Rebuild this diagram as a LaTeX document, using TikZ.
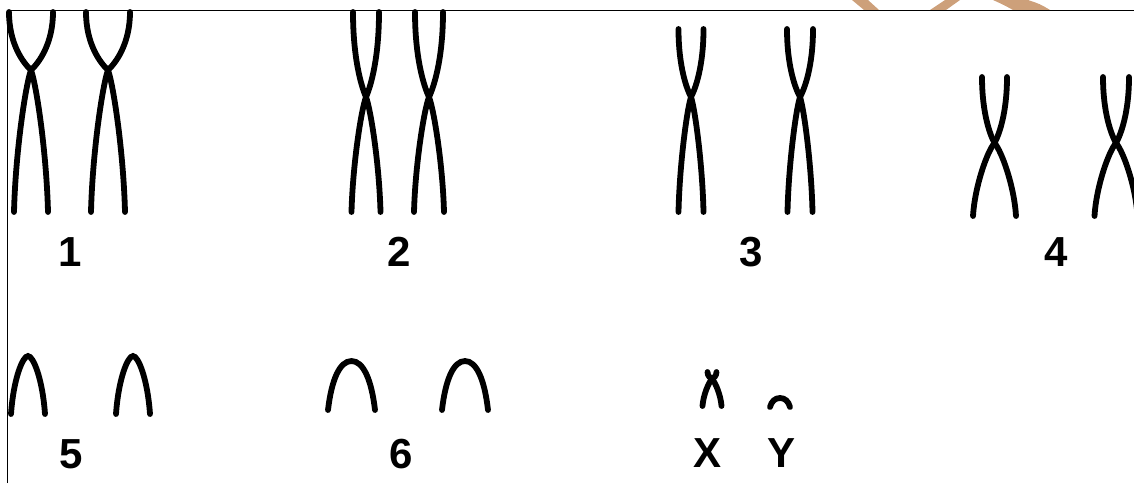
\documentclass[tikz,border=0pt]{standalone}
\usepackage{fontspec}
\setsansfont{Liberation Sans}
\definecolor{logotan}{RGB}{205,160,122}

% one chromosome: centre x, top y, centromere y, foot y, half width above, half width below
\newcommand\chromo[6]{%
  \draw[chromatid] ({#1-#5},#2) .. controls ({#1-#5},{#2+0.55*(#3-#2)}) and ({#1-0.35*#5},{#3-0.12*(#3-#2)}) .. (#1,#3)
    .. controls ({#1+0.35*#6},{#3+0.12*(#4-#3)}) and ({#1+0.92*#6},{#4-0.4*(#4-#3)}) .. ({#1+#6},#4);
  \draw[chromatid] ({#1+#5},#2) .. controls ({#1+#5},{#2+0.55*(#3-#2)}) and ({#1+0.35*#5},{#3-0.12*(#3-#2)}) .. (#1,#3)
    .. controls ({#1-0.35*#6},{#3+0.12*(#4-#3)}) and ({#1-0.92*#6},{#4-0.4*(#4-#3)}) .. ({#1-#6},#4);
}
% one arch: centre x, apex y, foot y, half width, roundness of the top
\newcommand\arch[5]{%
  \draw[chromatid] ({#1-#4},#3) .. controls ({#1-0.85*#4},{#3-0.62*(#3-#2)}) and ({#1-#5*#4},#2) .. (#1,#2)
    .. controls ({#1+#5*#4},#2) and ({#1+0.85*#4},{#3-0.62*(#3-#2)}) .. ({#1+#4},#3);
}

\begin{document}
\begin{tikzpicture}[x=0.5pt,y=-0.5pt,
    chromatid/.style={line width=2.9pt,line cap=round},
    num/.style={font=\fontsize{21}{25}\selectfont\sffamily\bfseries,inner sep=0pt}]
\useasboundingbox (0,0) rectangle (1134,483);
\clip (0,0) rectangle (1134,483);

% logo, cut off by the frame
\begin{scope}
\clip (0,0) rectangle (1134,10);
\fill[logotan] (852,0) -- (868,0) -- (879,10) -- (864,10) -- cycle;
\fill[logotan] (945,0) -- (960,0) -- (946,10) -- (930,10) -- cycle;
\fill[logotan] (993,0) -- (1028,0) .. controls (1040,4) .. (1050,10) -- (1013,10) .. controls (1004,5) .. (993,0) -- cycle;
\end{scope}

\draw[line width=0.5pt] (7.5,483) -- (7.5,10.5) -- (1134,10.5);

% pair 1
\chromo{31}{12}{70}{212}{22}{17}
\chromo{108}{12}{70}{212}{22}{17}
% pair 2
\chromo{366}{12}{97}{212}{13}{14.5}
\chromo{429}{12}{97}{212}{14}{15}
% pair 3
\chromo{691}{29}{97}{212}{12.5}{12.5}
\chromo{800}{29}{97}{212}{13}{12.5}
% pair 4
\chromo{994.5}{77}{143}{216}{12.5}{21.5}
\chromo{1116}{77}{143}{216}{13}{21.5}
% pair 5
\arch{28}{356}{414}{17}{0.3}
\arch{133}{356}{414}{17}{0.3}
% pair 6
\arch{351.5}{361}{410}{23.5}{0.5}
\arch{465}{361}{410}{23}{0.5}
% X and Y
\chromo{712}{372}{379}{406}{4.5}{9.5}
\arch{780}{398}{407}{10}{0.5}

\node[num] (n1) at (70,252) {1};
\node[num] (n2) at (399,252) {2};
\node[num] (n3) at (751,252) {3};
\node[num] (n4) at (1056,252) {4};
\node[num] (n5) at (71,454) {5};
\node[num] (n6) at (401,454) {6};
\node[num] (nx) at (707,453) {X};
\node[num] (ny) at (781,453) {Y};
\end{tikzpicture}
\end{document}
